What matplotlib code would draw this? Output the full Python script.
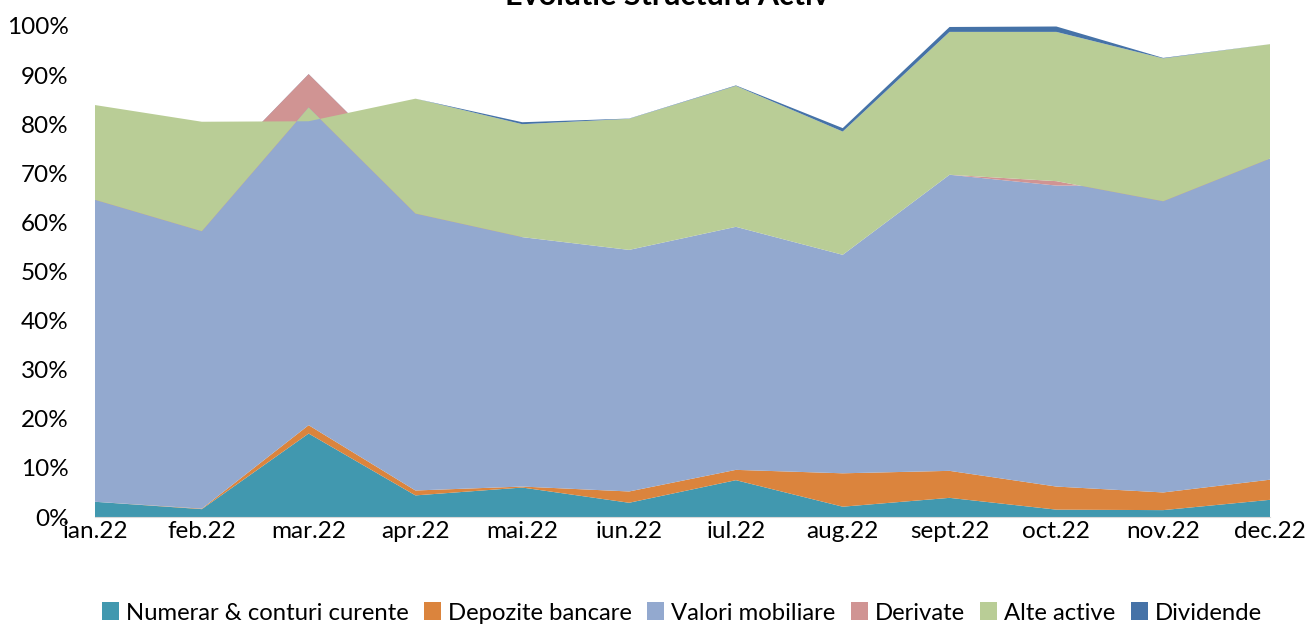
import numpy as np
import matplotlib
matplotlib.use('Agg')
from matplotlib import pyplot as plt

# structura activului, % din total
months = ['ian.22', 'feb.22', 'mar.22', 'apr.22', 'mai.22', 'iun.22',
          'iul.22', 'aug.22', 'sept.22', 'oct.22', 'nov.22', 'dec.22']
numerar = [3.1, 1.6, 17.0, 4.4, 6.0, 2.9, 7.5, 2.1, 3.9, 1.5, 1.4, 3.5]
depozite = [0.0, 0.1, 1.7, 1.0, 0.2, 2.3, 2.1, 6.8, 5.5, 4.7, 3.6, 4.1]
valori = [61.5, 66.1, 71.5, 63.2, 50.8, 49.2, 49.5, 44.5, 60.3, 61.3, 62.5, 65.4]
derivate = [0.0, -9.6, -6.8, -6.8, 0.0, 0.0, 0.0, 0.0, 0.0, 0.9, -3.2, 0.0]
alte_active = [19.3, 22.3, -2.8, 23.4, 23.0, 26.7, 28.7, 25.1, 29.1, 30.4, 29.1, 23.3]
dividende = [0.0, 0.0, 0.0, 0.0, 0.4, 0.05, 0.1, 0.7, 1.0, 1.1, 0.1, 0.0]

labels = ['Numerar & conturi curente', 'Depozite bancare', 'Valori mobiliare',
          'Derivate', 'Alte active', 'Dividende']
colors = ['#4198AF', '#DB843D', '#93A9CF', '#D09493', '#B9CD96', '#4572A7']

plt.rcParams['font.family'] = ['Lato', 'DejaVu Sans']

W, H = 1309, 625
fig = plt.figure(figsize=(W / 100, H / 100), dpi=100)
ax = fig.add_axes([95 / W, 1 - 517 / H, (1270 - 95) / W, (517 - 26) / H])

x = np.arange(len(months))
ax.stackplot(x, numerar, depozite, valori, derivate, alte_active, dividende,
             labels=labels, colors=colors, linewidth=0)

ax.set_xlim(0, len(months) - 1)
ax.set_ylim(0, 100)
ax.set_yticks(range(0, 101, 10))
ax.set_yticklabels([f'{v}%' for v in range(0, 101, 10)])
ax.set_xticks(x)
ax.set_xticklabels(months)
ax.tick_params(axis='both', length=0, labelsize=17.5)
ax.tick_params(axis='y', pad=19)
ax.tick_params(axis='x', pad=3)
for side in ['top', 'right', 'left']:
    ax.spines[side].set_visible(False)
ax.spines['bottom'].set_color('#D9D9D9')

fig.text(667 / W, 1 - 5 / H, 'Evolutie Structura Activ', ha='center',
         va='baseline', fontsize=22, fontweight='bold')

fig.legend(loc='center', bbox_to_anchor=(682 / W, 1 - 613 / H), ncol=6,
           frameon=False, fontsize=17.2, handlelength=0.7, handleheight=0.75,
           handletextpad=0.3, columnspacing=0.65, borderpad=0)

fig.savefig('out.png', dpi=100)
